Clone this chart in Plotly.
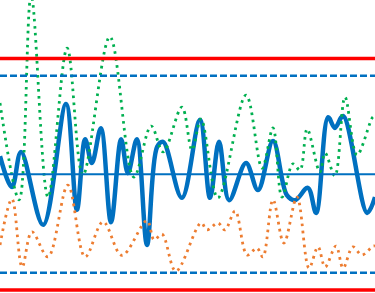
import plotly.graph_objects as go

# Control limits (standardized units)
center_line = 0.0
ucl, lcl = 3.0, -3.0
uwl, lwl = 2.55, -2.55

# Main series (thick blue)
blue_x = [0, 3.2, 5.6, 11.5, 17.6, 20.5, 22.7, 24.5, 26.9, 29.6, 32.3, 34.1, 36.5, 39.2,
          41.9, 43.5, 48.5, 53.3, 56.0, 58.4, 61.1, 65.6, 68.8, 72.8, 76.5, 78.7,
          82.1, 84.3, 87.5, 89.3, 91.5, 97.9, 100]
blue_y = [0.47, -0.33, 0.58, -1.31, 1.82, -0.92, 0.91, 0.29, 1.19, -1.24, 0.91, 0.03, 0.91, -1.83,
          0.71, 0.84, -0.61, 1.41, -0.61, 0.84, -0.67, 0.29, -0.41, 0.86, -0.54, -0.67,
          -0.35, -1.00, 1.48, 1.20, 1.51, -1.00, -0.59]

# Green dotted series
green_x = [0, 5.1, 8.3, 12.8, 17.9, 22.1, 29.3, 35.7, 40.3, 43.5, 48.5, 51.2, 53.6, 58.1,
           65.6, 69.9, 72.8, 75.2, 78.1, 80.0, 81.9, 85.3, 86.7, 89.3, 92.0, 95.2, 99.5, 100]
green_y = [1.85, -0.66, 4.64, -0.59, 3.27, -0.02, 3.56, -0.07, 1.25, 0.58, 1.74, 0.63, 1.43, -0.61,
           2.05, 0.16, 1.20, -0.59, 0.27, 0.11, 1.17, 0.06, 0.55, -0.04, 2.00, 0.50, 1.49, 1.47]

# Orange dotted series
orange_x = [0, 3.2, 5.9, 8.5, 12.8, 18.1, 22.7, 27.5, 32.5, 39.2, 41.1, 43.2, 46.9, 53.6,
            55.2, 58.1, 60.0, 62.7, 65.9, 68.5, 70.1, 72.8, 75.7, 79.2, 82.4, 84.8, 86.7,
            89.6, 91.5, 94.1, 96.5, 99.5, 100]
orange_y = [-1.83, -0.64, -2.40, -1.49, -2.14, -0.28, -2.14, -1.23, -2.10, -1.20, -1.70, -1.55, -2.51, -1.26,
            -1.44, -1.26, -1.44, -0.95, -2.09, -1.91, -2.14, -0.66, -1.78, -0.59, -2.43, -1.88, -2.40,
            -1.86, -2.43, -1.88, -2.09, -1.86, -1.86]

BLUE = "#0070C0"
GREEN = "#00B050"
ORANGE = "#ED7D31"
RED = "#FF0000"

fig = go.Figure()
fig.add_trace(go.Scatter(x=blue_x, y=blue_y, mode="lines",
                         line=dict(color=BLUE, width=4.5, shape="spline", smoothing=1.0)))
fig.add_trace(go.Scatter(x=green_x, y=green_y, mode="lines",
                         line=dict(color=GREEN, width=2.8, dash="2.6px,4.4px", shape="spline", smoothing=1.0)))
fig.add_trace(go.Scatter(x=orange_x, y=orange_y, mode="lines",
                         line=dict(color=ORANGE, width=2.8, dash="2.6px,4.4px", shape="spline", smoothing=1.0)))

shapes = [
    dict(type="line", xref="paper", x0=0, x1=1, yref="y", y0=center_line, y1=center_line,
         line=dict(color=BLUE, width=2)),
    dict(type="line", xref="paper", x0=0, x1=1, yref="y", y0=uwl, y1=uwl,
         line=dict(color=BLUE, width=2.5, dash="7px,3px")),
    dict(type="line", xref="paper", x0=0, x1=1, yref="y", y0=lwl, y1=lwl,
         line=dict(color=BLUE, width=2.5, dash="7px,3px")),
    dict(type="line", xref="paper", x0=0, x1=1, yref="y", y0=ucl, y1=ucl,
         line=dict(color=RED, width=3.5)),
    dict(type="line", xref="paper", x0=0, x1=1, yref="y", y0=lcl, y1=lcl,
         line=dict(color=RED, width=3.5)),
]

fig.update_layout(
    width=375, height=293,
    margin=dict(l=0, r=0, t=0, b=0),
    paper_bgcolor="white", plot_bgcolor="white",
    showlegend=False,
    shapes=shapes,
    xaxis=dict(range=[0, 100], visible=False, fixedrange=True),
    yaxis=dict(range=[-3.075, 4.515], visible=False, fixedrange=True),
)

fig.write_html("out.html", config={"displayModeBar": False})
